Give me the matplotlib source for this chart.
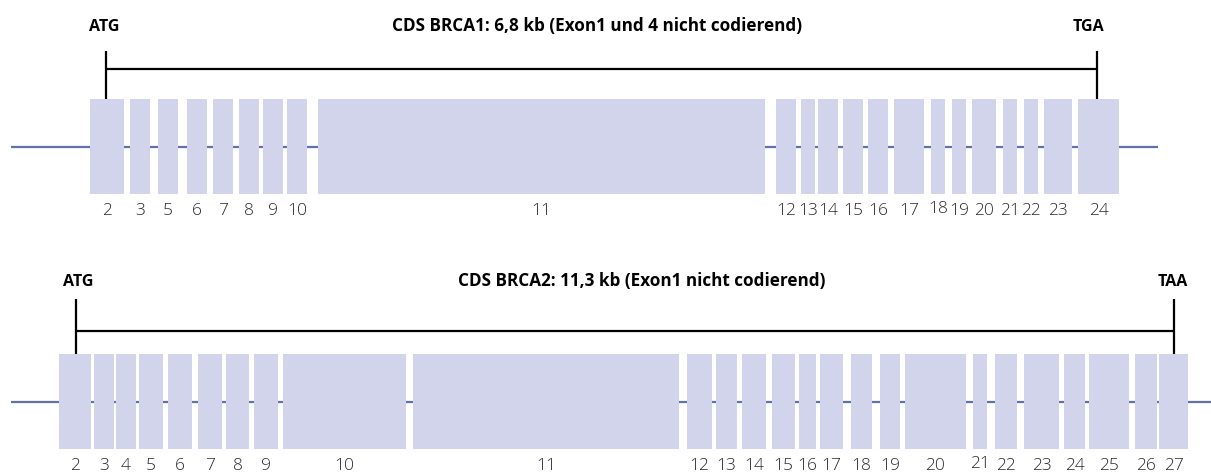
import matplotlib.pyplot as plt
from matplotlib.patches import Rectangle

# exon layout (x units = pixels of the original)
BRCA1_EXONS = ['2', '3', '5', '6', '7', '8', '9', '10', '11', '12', '13', '14',
               '15', '16', '17', '18', '19', '20', '21', '22', '23', '24']
BRCA1_START = [90, 130, 158, 187, 213, 239, 263, 287, 318, 776, 801, 818,
               843, 868, 894, 931, 952, 972, 1003, 1024, 1044, 1078]
BRCA1_END = [124, 150, 178, 207, 233, 259, 283, 307, 765, 796, 815, 838,
             863, 888, 924, 945, 966, 996, 1017, 1038, 1072, 1119]

BRCA2_EXONS = ['2', '3', '4', '5', '6', '7', '8', '9', '10', '11', '12', '13',
               '14', '15', '16', '17', '18', '19', '20', '21', '22', '23',
               '24', '25', '26', '27']
BRCA2_START = [59, 94, 116, 139, 168, 198, 226, 254, 283, 413, 687, 716,
               742, 772, 799, 820, 851, 880, 905, 973, 995, 1024,
               1064, 1089, 1135, 1159]
BRCA2_END = [91, 114, 136, 163, 192, 222, 249, 278, 406, 679, 712, 737,
             766, 795, 816, 843, 872, 900, 966, 987, 1017, 1059,
             1085, 1129, 1157, 1188]

BRCA1_TITLE = 'CDS BRCA1: 6,8 kb (Exon1 und 4 nicht codierend)'
BRCA2_TITLE = 'CDS BRCA2: 11,3 kb (Exon1 nicht codierend)'

EXON_COL = '#d1d4ea'
INTRON_COL = '#6470ae'
TEXT_COL = '#2a2a2a'

plt.rcParams['font.family'] = ['Open Sans', 'DejaVu Sans']

fig = plt.figure(figsize=(12.11, 4.72), dpi=100)
ax = fig.add_axes([0, 0, 1, 1])
ax.set_xlim(0, 1211)
ax.set_ylim(472, 0)
ax.axis('off')


def draw_gene(names, starts, ends, top, line_end, atg, stop, stop_name,
              stop_lx, atg_lx, title, title_x, tick_len, bar_off,
              raised=()):
    '''draws one gene track: intron line, exon boxes, numbers, CDS bracket'''
    h = 95
    mid = top + h / 2
    ax.plot([11, line_end], [mid, mid], color=INTRON_COL, lw=1.6,
            solid_capstyle='butt', zorder=1)
    for n, s, e in zip(names, starts, ends):
        ax.add_patch(Rectangle((s, top), e - s, h, facecolor=EXON_COL,
                               edgecolor='none', zorder=2))
        dy = -2 if n in raised else 0
        ax.text((s + e) / 2, top + h + 17 + dy, n, ha='center', va='center',
                fontsize=12.5, color=TEXT_COL, fontweight='light')
    # bracket for the coding sequence
    ax.plot([atg, stop], [top - bar_off, top - bar_off], color='black',
            lw=1.6, solid_capstyle='butt', zorder=3)
    for x in (atg, stop):
        ax.plot([x, x], [top - tick_len, top], color='black', lw=1.6,
                solid_capstyle='butt', zorder=3)
    ax.text(atg_lx, top - 72, 'ATG', ha='center', va='center', fontsize=11.5,
            fontweight='bold', color='black')
    ax.text(stop_lx, top - 72, stop_name, ha='center', va='center',
            fontsize=11.5, fontweight='bold', color='black')
    ax.text(title_x, top - 73, title, ha='center', va='center',
            fontsize=12.3, fontweight='bold', color='black')


draw_gene(BRCA1_EXONS, BRCA1_START, BRCA1_END, 99, 1158, 106, 1097, 'TGA',
          1088, 104, BRCA1_TITLE, 597, 48, 30, raised=('18',))
draw_gene(BRCA2_EXONS, BRCA2_START, BRCA2_END, 354, 1211, 76, 1174, 'TAA',
          1173, 78, BRCA2_TITLE, 642, 55, 23, raised=('21',))

fig.savefig('out.png', dpi=100)
